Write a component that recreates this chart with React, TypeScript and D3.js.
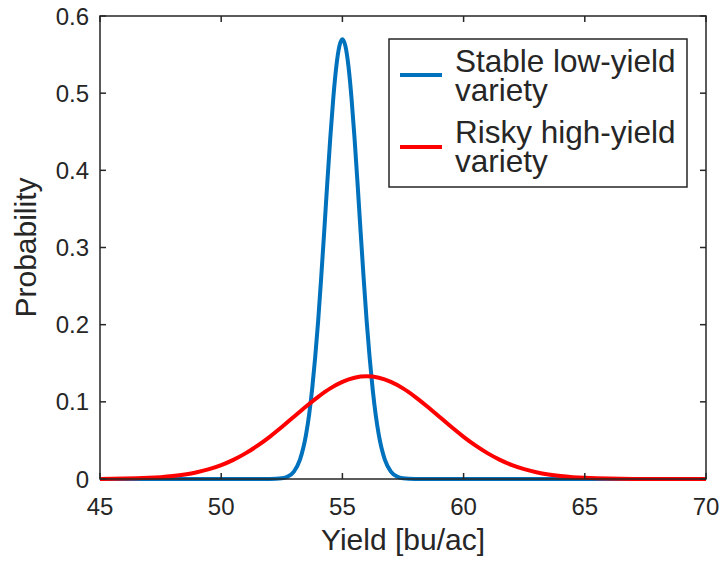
import React from "react";
import * as d3 from "d3";

const xTicks = [45, 50, 55, 60, 65, 70];
const yTicks = [0, 0.1, 0.2, 0.3, 0.4, 0.5, 0.6];
const yTickLabels = ["0", "0.1", "0.2", "0.3", "0.4", "0.5", "0.6"];

const stableX = [45, 50, 51, 52, 52.5, 52.75, 53, 53.25, 53.5, 53.625, 53.75, 53.875, 54, 54.125, 54.25, 54.375, 54.5, 54.625, 54.75, 54.875, 55, 55.125, 55.25, 55.375, 55.5, 55.625, 55.75, 55.875, 56, 56.125, 56.25, 56.375, 56.5, 56.75, 57, 57.25, 57.5, 58, 59, 60, 65, 70];
const stableY = [0, 0, 0, 0.00006, 0.00097, 0.00325, 0.00962, 0.025, 0.0574, 0.0828, 0.116, 0.157, 0.205, 0.261, 0.321, 0.383, 0.442, 0.494, 0.535, 0.561, 0.57, 0.561, 0.535, 0.494, 0.442, 0.383, 0.321, 0.261, 0.205, 0.157, 0.116, 0.0828, 0.0574, 0.025, 0.00962, 0.00325, 0.00097, 0.00006, 0, 0, 0, 0];

const riskyX = [45, 45.5, 46, 46.5, 47, 47.5, 48, 48.5, 49, 49.5, 50, 50.5, 51, 51.5, 52, 52.5, 53, 53.5, 54, 54.5, 55, 55.5, 56, 56.5, 57, 57.5, 58, 58.5, 59, 59.5, 60, 60.5, 61, 61.5, 62, 62.5, 63, 63.5, 64, 64.5, 65, 65.5, 66, 67, 68, 69, 70];
const riskyY = [0.00016, 0.00029, 0.00051, 0.00088, 0.00148, 0.0024, 0.0038, 0.00584, 0.00874, 0.0127, 0.018, 0.0248, 0.0332, 0.0432, 0.0547, 0.0673, 0.0807, 0.094, 0.1065, 0.1174, 0.1258, 0.1312, 0.133, 0.1312, 0.1258, 0.1174, 0.1065, 0.094, 0.0807, 0.0673, 0.0547, 0.0432, 0.0332, 0.0248, 0.018, 0.0127, 0.00874, 0.00584, 0.0038, 0.0024, 0.00148, 0.00088, 0.00051, 0.00016, 0.00005, 0.00001, 0];

const seriesNames = ["Stable low-yield|variety", "Risky high-yield|variety"];
const seriesColors = ["#0072BD", "#FF0000"];

const W = 723, H = 561;
const L = 100, R = 706, T = 16, B = 479;
const FONT = "'Liberation Sans', Arial, Helvetica, sans-serif";
const AX = "#262626";

export default function App() {
  const x = d3.scaleLinear().domain([45, 70]).range([L, R]);
  const y = d3.scaleLinear().domain([0, 0.6]).range([B, T]);
  const line = d3.line<[number, number]>().x(d => x(d[0])).y(d => y(d[1])).curve(d3.curveMonotoneX);
  const stable = line(stableX.map((v, i) => [v, stableY[i]] as [number, number])) || "";
  const risky = line(riskyX.map((v, i) => [v, riskyY[i]] as [number, number])) || "";
  const tl = 6;
  return (
    <svg width={W} height={H} style={{ position: "absolute", left: 0, top: 0 }} fontFamily={FONT}>
      <rect x={0} y={0} width={W} height={H} fill="#fff" />
      <path d={stable} fill="none" stroke={seriesColors[0]} strokeWidth={4} strokeLinejoin="round" />
      <path d={risky} fill="none" stroke={seriesColors[1]} strokeWidth={4} strokeLinejoin="round" />
      <rect x={L} y={T} width={R - L} height={B - T} fill="none" stroke={AX} strokeWidth={1.5} />
      {xTicks.map(t => (
        <g key={"x" + t}>
          <line x1={x(t)} x2={x(t)} y1={B} y2={B - tl} stroke={AX} strokeWidth={1.5} />
          <line x1={x(t)} x2={x(t)} y1={T} y2={T + tl} stroke={AX} strokeWidth={1.5} />
          <text x={x(t)} y={515} textAnchor="middle" fontSize={24} fill={AX}>{t}</text>
        </g>
      ))}
      {yTicks.map((t, i) => (
        <g key={"y" + t}>
          <line x1={L} x2={L + tl} y1={y(t)} y2={y(t)} stroke={AX} strokeWidth={1.5} />
          <line x1={R} x2={R - tl} y1={y(t)} y2={y(t)} stroke={AX} strokeWidth={1.5} />
          <text x={89} y={y(t) + 8.5} textAnchor="end" fontSize={24} fill={AX}>{yTickLabels[i]}</text>
        </g>
      ))}
      <text x={(L + R) / 2} y={550} textAnchor="middle" fontSize={30} fill={AX}>Yield [bu/ac]</text>
      <text transform={`translate(36, ${(T + B) / 2}) rotate(-90)`} textAnchor="middle" fontSize={30} fill={AX}>Probability</text>
      <rect x={389} y={39} width={298} height={148} fill="#fff" stroke={AX} strokeWidth={1.5} />
      {seriesNames.map((n, i) => {
        const parts = n.split("|");
        const base = i === 0 ? 72 : 143;
        const ly = i === 0 ? 75 : 147;
        return (
          <g key={n}>
            <line x1={400} x2={442} y1={ly} y2={ly} stroke={seriesColors[i]} strokeWidth={4} />
            <text x={455} y={base} fontSize={31.5} fill={AX}>{parts[0]}</text>
            <text x={455} y={base + 29} fontSize={31.5} fill={AX}>{parts[1]}</text>
          </g>
        );
      })}
    </svg>
  );
}
